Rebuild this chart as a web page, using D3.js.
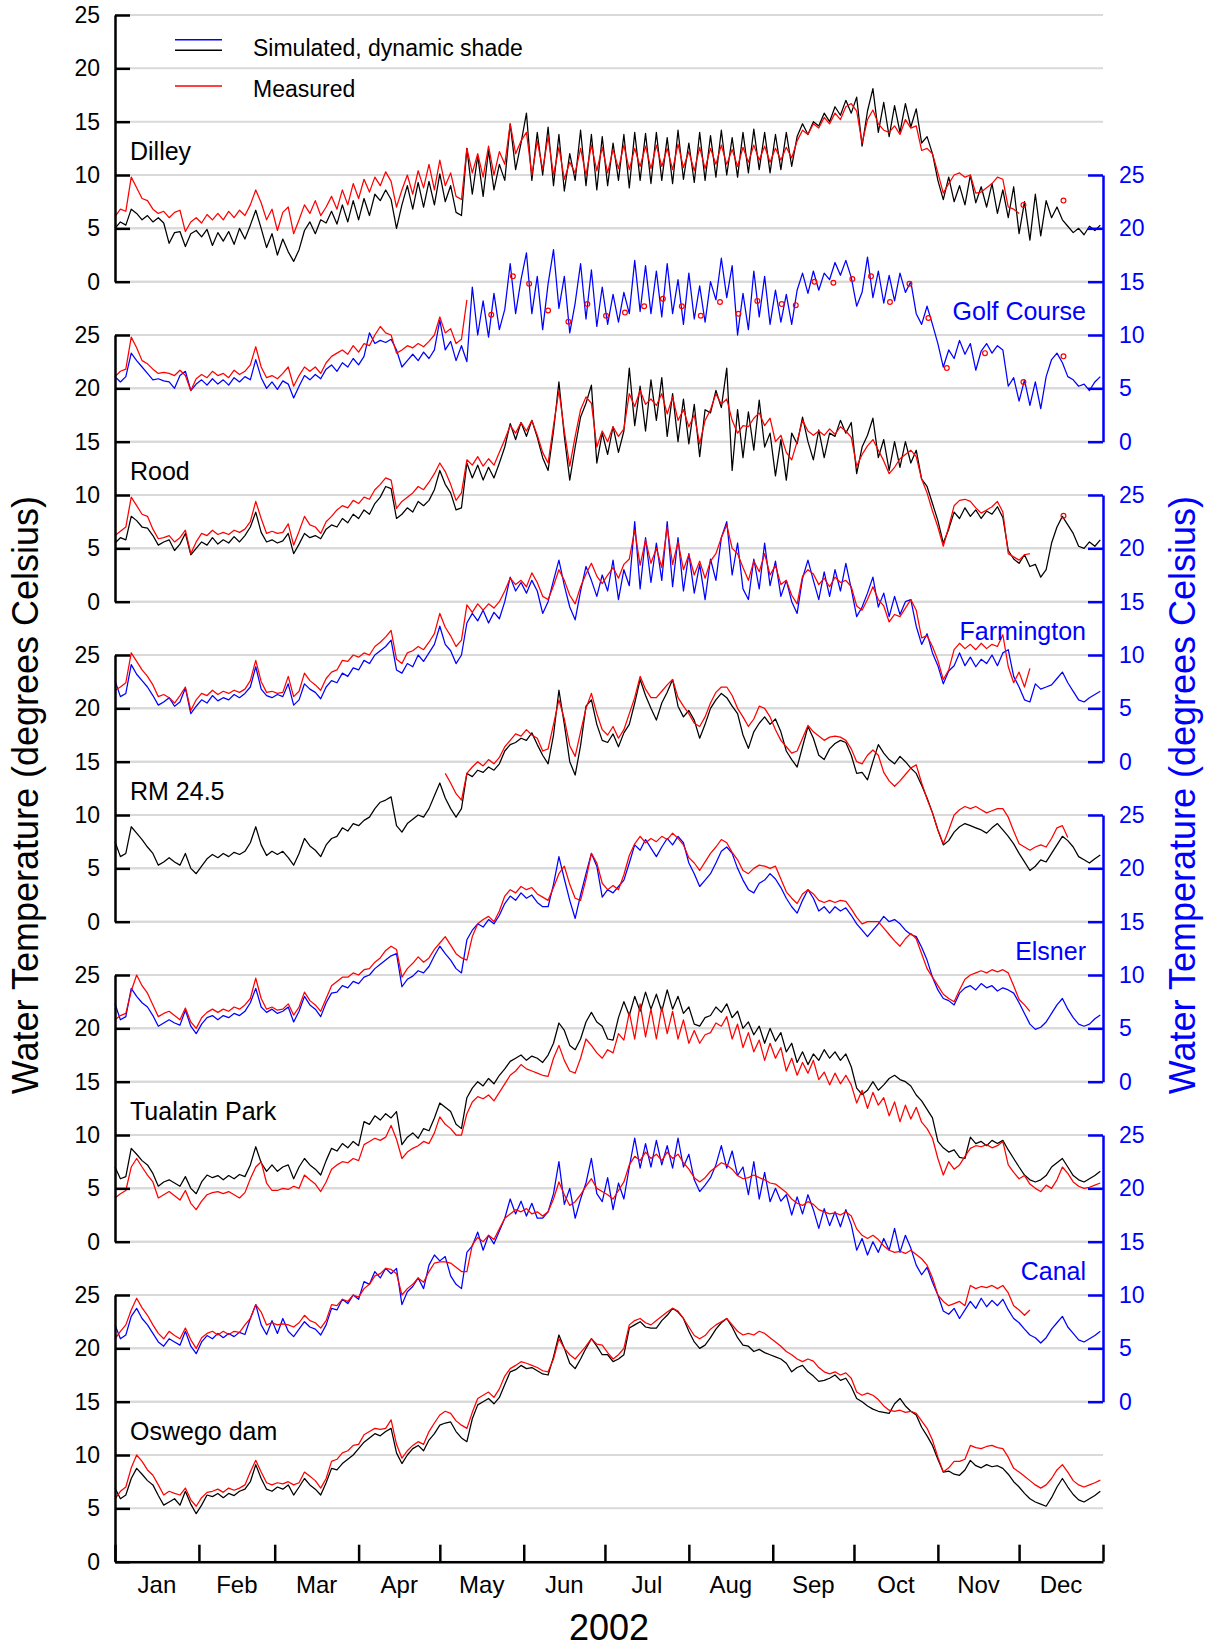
<!DOCTYPE html>
<html>
<head>
<meta charset="utf-8">
<script src="https://cdn.jsdelivr.net/npm/d3@7"></script>
<style>
body { margin: 0; background: #fff; }
svg { display: block; }
</style>
</head>
<body>
<svg id="chart" width="1208" height="1648"></svg>
<script>
// water temperature, deg C, read every 2 days from 1 Jan 2002 (value i -> day start + 2*i)
var dilleySim = [
 5.0, 5.6, 5.3, 6.8, 6.4, 5.8, 6.2, 5.6, 6.0, 5.5,
 3.6, 4.6, 4.7, 3.3, 4.5, 4.8, 4.2, 4.9, 3.4, 4.6,
 3.8, 4.7, 3.5, 5.0, 4.0, 5.3, 6.7, 5.0, 3.2, 4.5,
 2.5, 4.0, 2.8, 1.9, 3.0, 4.8, 5.6, 4.5, 5.8, 5.5,
 6.6, 5.4, 7.2, 5.6, 7.6, 5.8, 7.8, 6.2, 8.2, 7.6,
 8.6, 7.7, 5.0, 7.2, 9.0, 6.8, 9.3, 7.0, 9.4, 7.2,
 10.1, 7.5, 9.0, 6.5, 6.2, 12.5, 8.2, 11.8, 8.0, 12.3,
 8.6, 11.0, 9.5, 14.8, 10.5, 13.0, 15.8, 9.5, 14.0, 10.0,
 14.5, 9.0, 13.8, 8.5, 12.0, 9.5, 14.2, 9.0, 13.8, 8.6,
 13.6, 9.0, 13.0, 9.5, 13.8, 8.8, 14.0, 9.5, 13.9, 9.2,
 14.0, 9.5, 13.5, 9.2, 14.2, 9.6, 13.0, 9.3, 14.0, 9.5,
 13.7, 9.8, 14.2, 10.0, 13.5, 9.8, 14.0, 10.2, 14.3, 10.5,
 14.0, 10.2, 13.8, 10.5, 14.0, 10.8, 13.6, 14.8, 13.8, 15.0,
 14.6, 15.8, 15.0, 16.4, 15.6, 17.0, 15.8, 17.3, 12.7, 16.0,
 18.1, 14.0, 16.8, 13.6, 16.5, 14.0, 16.7, 14.5, 16.2, 13.0,
 13.6, 12.0, 9.5, 7.7, 9.8, 7.5, 9.0, 7.2, 10.0, 7.4,
 8.9, 7.0, 9.2, 6.4, 8.6, 6.0, 8.9, 4.5, 7.5, 3.9,
 8.2, 4.3, 7.6, 6.0, 7.0, 5.8, 5.2, 4.6, 5.0, 4.4,
 5.2, 4.8, 5.3
];
var dilleyMeas = [
 6.1, 6.8, 6.6, 9.8, 8.8, 7.8, 7.6, 6.8, 6.4, 6.6,
 6.0, 6.5, 6.7, 4.7, 5.6, 6.0, 5.5, 6.3, 5.8, 6.4,
 5.8, 6.6, 6.0, 6.7, 6.2, 7.2, 8.6, 7.4, 5.8, 6.8,
 4.8, 6.5, 7.0, 4.5, 5.8, 7.2, 6.4, 7.6, 6.2, 7.0,
 8.0, 6.8, 8.6, 7.2, 9.2, 7.8, 9.6, 8.4, 9.8, 9.0,
 10.3, 9.4, 7.0, 8.6, 10.0, 8.2, 10.4, 8.8, 11.0, 8.6,
 11.4, 9.0, 10.2, 8.0, 7.7, 12.5, 10.2, 12.0, 9.8, 12.7,
 10.0, 12.2, 11.0, 14.8, 12.0, 13.2, 14.0, 10.0, 13.2, 10.5,
 13.6, 10.0, 12.6, 9.6, 11.2, 10.2, 12.5, 10.0, 12.8, 10.4,
 12.6, 10.2, 12.4, 10.6, 12.8, 10.5, 12.5, 10.8, 12.7, 10.6,
 12.8, 10.8, 12.5, 10.5, 12.9, 10.7, 12.2, 10.4, 12.6, 10.6,
 12.5, 11.0, 12.8, 11.0, 12.4, 10.8, 12.6, 11.2, 12.8, 11.4,
 12.7, 11.2, 12.5, 11.4, 12.6, 11.6, 13.2, 14.2, 13.8, 14.8,
 14.4, 15.4, 14.8, 15.8, 15.2, 16.4, 16.7, 16.0, 13.0, 15.2,
 16.1, 14.8, 14.2, 14.0, 14.6, 13.8, 15.2, 14.4, 14.6, 12.3,
 12.5, 12.0, 10.2, 8.3, 9.2, 10.0, 10.2, 9.8, 10.0, 8.3,
 8.4, 8.8, 9.2, 9.8, 9.6, 7.0, 6.8, 6.4
];
var dilleyPts = [[335.6, 7.2], [350.4, 7.6]];

var golfSim = [
 6.1, 5.6, 6.1, 8.3, 7.6, 7.0, 6.4, 5.8, 5.9, 5.7,
 5.6, 5.0, 6.2, 6.6, 4.8, 5.4, 5.8, 5.3, 5.9, 5.4,
 5.8, 5.3, 6.0, 5.6, 6.1, 5.8, 7.7, 6.0, 5.0, 5.6,
 4.9, 5.7, 5.4, 4.1, 5.2, 6.2, 5.8, 6.3, 5.9, 6.8,
 7.2, 6.6, 7.4, 7.0, 7.8, 7.2, 8.0, 10.2, 9.2, 9.5,
 9.3, 9.6, 8.6, 7.0, 7.6, 8.2, 7.6, 8.4, 7.8, 8.6,
 11.4, 8.6, 9.4, 7.6, 9.0, 7.5, 14.5, 10.0, 13.2, 9.8,
 13.9, 10.5, 12.4, 16.7, 12.0, 15.2, 17.7, 12.0, 15.5, 10.5,
 14.8, 18.0, 12.5, 15.5, 10.2, 13.0, 16.7, 11.5, 16.1, 10.8,
 14.5, 11.0, 13.8, 11.2, 14.0, 12.0, 17.0, 12.2, 16.5, 12.0,
 16.0, 11.7, 16.7, 12.0, 15.2, 11.0, 15.8, 11.5, 14.6, 11.2,
 15.0, 13.3, 17.2, 13.5, 16.5, 10.0, 13.9, 10.5, 16.0, 11.7,
 15.5, 11.0, 14.2, 11.2, 13.8, 11.0, 14.2, 15.8, 13.9, 16.0,
 14.2, 15.8, 15.2, 16.8, 15.6, 17.0, 15.4, 12.7, 14.0, 17.3,
 13.5, 16.0, 13.0, 15.6, 13.2, 15.8, 14.0, 15.0, 12.0, 11.0,
 12.7, 11.0, 9.2, 7.0, 8.6, 7.8, 9.5, 8.2, 9.2, 6.7,
 8.5, 9.2, 8.3, 9.0, 8.6, 5.2, 6.0, 3.8, 5.8, 3.4,
 5.6, 3.1, 6.1, 7.7, 8.3, 7.4, 6.1, 5.8, 5.2, 5.4,
 4.8, 5.6, 6.1
];
var golfMeas = [
 6.1, 6.6, 6.8, 9.8, 8.8, 7.6, 7.3, 6.8, 6.4, 6.5,
 6.4, 6.2, 6.7, 6.2, 4.8, 5.9, 6.3, 6.0, 6.6, 6.2,
 6.4, 6.0, 6.7, 6.3, 6.6, 7.2, 8.9, 7.0, 6.0, 6.2,
 5.9, 6.4, 7.0, 5.2, 6.2, 7.0, 6.6, 7.0, 6.4, 7.4,
 8.0, 8.3, 8.6, 8.2, 9.0, 8.4, 9.2, 9.0, 10.0, 10.8,
 10.2, 10.0, 8.3, 8.6, 9.0, 8.8, 9.2, 8.9, 9.4, 10.0,
 11.7, 10.2, 10.6, 9.2, 9.6, 13.3
];
var golfPts = [
 [139, 11.9], [147, 15.5], [153, 14.8], [160, 12.3], [167.5, 11.25], [174.5, 12.9],
 [181.4, 11.8], [188.4, 12.1], [195.5, 12.7], [202.4, 13.4], [209.4, 12.7], [216.4, 11.8],
 [223.5, 13.1], [230.3, 12.0], [237.3, 13.2], [246.3, 12.9], [251.5, 12.8], [258.4, 15.0],
 [265.4, 14.9], [272.4, 15.25], [279.3, 15.5], [286.3, 13.1], [293.5, 14.8], [300.5, 11.6],
 [307.3, 6.9], [321.4, 8.3], [335.6, 5.6], [350.4, 8.0]
];

var roodSim = [
 5.5, 6.0, 5.8, 8.0, 7.6, 7.0, 6.9, 6.2, 5.3, 5.6,
 5.8, 4.8, 5.4, 6.4, 4.4, 5.0, 5.6, 5.3, 6.0, 5.4,
 5.8, 5.5, 6.1, 5.6, 6.2, 7.0, 8.4, 6.5, 5.6, 5.8,
 5.5, 5.7, 6.4, 4.5, 5.4, 6.4, 6.0, 6.2, 5.9, 6.8,
 7.2, 7.0, 7.8, 7.4, 8.2, 7.8, 8.6, 8.2, 9.2, 9.8,
 10.8, 10.6, 7.8, 8.2, 8.8, 8.4, 9.4, 9.0, 9.5, 10.5,
 12.3, 11.0, 10.2, 8.6, 8.8, 13.0, 11.6, 12.8, 11.4, 12.6,
 11.6, 13.0, 14.5, 16.7, 15.2, 16.8, 15.5, 17.0, 15.4, 13.5,
 12.3, 16.0, 20.6, 15.5, 11.4, 14.5, 17.3, 18.6, 20.3, 13.0,
 15.8, 13.8, 16.4, 14.0, 16.0, 21.9, 16.5, 20.2, 16.0, 20.8,
 17.0, 21.0, 15.5, 19.5, 15.0, 19.0, 14.8, 18.5, 13.6, 18.0,
 17.7, 19.8, 18.2, 21.9, 12.3, 18.0, 13.5, 17.8, 14.2, 18.9,
 14.5, 15.8, 11.8, 15.2, 11.4, 15.8, 14.8, 17.3, 15.0, 13.3,
 16.1, 13.5, 15.8, 15.5, 17.0, 15.8, 16.8, 12.0, 14.5, 15.6,
 17.2, 13.5, 15.2, 12.3, 15.0, 12.6, 15.0, 13.0, 14.2, 11.5,
 10.8, 9.2, 7.6, 5.5, 6.8, 8.4, 7.8, 8.8, 8.0, 8.6,
 7.8, 8.5, 8.2, 8.9, 7.9, 4.8, 4.0, 3.6, 4.4, 3.3,
 3.5, 2.3, 3.0, 5.5, 7.0, 8.0, 7.2, 6.4, 5.2, 5.0,
 5.6, 5.2, 5.8
];
var roodMeas = [
 6.2, 6.6, 7.0, 9.8, 9.0, 8.2, 8.0, 6.8, 5.9, 6.0,
 6.2, 5.6, 6.0, 6.7, 4.5, 5.6, 6.4, 6.2, 6.7, 6.3,
 6.5, 6.3, 6.7, 6.5, 6.8, 7.5, 9.4, 7.8, 6.4, 6.6,
 6.4, 6.5, 7.3, 5.3, 6.6, 8.0, 7.2, 7.0, 6.4, 7.5,
 8.0, 8.6, 9.0, 8.8, 9.5, 9.2, 9.8, 9.6, 10.5, 11.0,
 11.6, 11.4, 8.75, 9.4, 9.8, 10.2, 10.8, 10.5, 11.2, 12.0,
 13.0, 12.2, 11.0, 9.5, 10.2, 13.3, 12.8, 13.6, 12.7, 13.4,
 12.8, 14.0, 15.2, 16.5, 15.8, 16.8, 16.0, 17.0, 15.6, 14.0,
 13.0, 16.5, 19.8, 16.0, 12.7, 15.5, 18.0, 19.2, 18.6, 14.5,
 16.0, 15.0, 16.4, 15.5, 16.2, 19.5, 18.3, 19.8, 18.5, 19.0,
 18.4, 19.5, 17.6, 19.2, 17.0, 18.0, 16.4, 17.5, 14.8, 17.0,
 18.0, 19.5, 18.5, 19.0, 17.0, 15.8, 16.5, 16.4, 17.2, 17.7,
 16.5, 17.2, 15.0, 15.6, 14.0, 13.3, 15.0, 17.0, 16.0, 15.6,
 16.0, 15.6, 16.2, 15.7, 16.4, 16.0, 15.4, 12.7, 13.8, 14.6,
 15.2, 14.2, 13.2, 12.0, 12.6, 13.4, 13.8, 14.2, 13.6, 11.5,
 10.2, 8.5, 7.0, 5.2, 7.0, 9.0, 9.5, 9.6, 9.4, 8.8,
 8.3, 8.6, 8.9, 9.4, 8.4, 4.5, 4.2, 3.9, 4.4, 4.5
];
var roodPts = [[350.4, 8.06]];

var farmSim = [
 7.6, 6.1, 6.4, 9.1, 8.2, 7.6, 7.0, 6.2, 5.3, 5.6,
 6.0, 5.2, 5.6, 6.9, 4.5, 5.2, 5.8, 5.5, 6.2, 5.7,
 6.0, 5.8, 6.3, 6.0, 6.4, 7.0, 8.9, 6.8, 6.2, 6.0,
 6.3, 6.1, 7.3, 5.3, 5.8, 7.3, 6.8, 6.5, 5.9, 7.0,
 7.6, 7.4, 8.3, 8.0, 8.8, 8.6, 9.5, 9.2, 10.0, 10.4,
 10.8, 11.4, 8.6, 8.3, 9.2, 8.9, 10.0, 9.4, 10.2, 11.0,
 12.7, 11.0, 10.4, 9.2, 10.0, 13.0, 13.9, 13.2, 14.2, 13.0,
 14.0, 13.4, 15.0, 17.3, 16.0, 16.8, 15.8, 17.0, 16.0, 13.9,
 15.0, 17.0, 18.9, 16.5, 14.5, 13.3, 16.0, 18.3, 17.0, 15.5,
 17.5, 16.0, 18.9, 15.2, 18.0, 16.5, 22.5, 16.2, 21.0, 16.8,
 20.5, 17.0, 22.5, 16.4, 21.0, 16.0, 19.5, 15.8, 18.5, 15.2,
 19.0, 17.0, 21.0, 22.5, 17.5, 20.5, 16.2, 15.2, 19.0, 16.2,
 20.5, 16.5, 18.8, 15.5, 17.0, 15.0, 13.9, 17.2, 18.9, 17.0,
 15.2, 17.8, 15.5, 18.0, 16.0, 18.6, 16.2, 13.6, 14.5, 15.8,
 17.3, 14.5, 15.8, 13.6, 15.5, 13.8, 15.0, 15.2, 12.7, 11.0,
 12.0, 10.2, 9.0, 7.3, 8.5, 9.0, 10.2, 9.0, 9.8, 8.9,
 9.6, 9.2, 10.0, 9.0, 10.2, 10.5, 8.0, 7.0, 5.8, 5.6,
 7.3, 6.8, 7.0, 7.2, 7.8, 8.4, 7.4, 6.6, 5.8, 5.6,
 6.0, 6.3, 6.6
];
var farmMeas = [
 6.7, 7.0, 7.4, 10.2, 9.4, 8.6, 8.0, 7.2, 6.1, 6.3,
 6.0, 5.5, 6.2, 7.0, 4.8, 5.8, 6.4, 6.2, 6.7, 6.3,
 6.6, 6.4, 6.7, 6.5, 6.8, 7.6, 9.5, 7.5, 6.5, 6.6,
 6.4, 6.5, 8.0, 6.1, 6.6, 8.3, 7.6, 7.2, 6.7, 7.8,
 8.4, 8.6, 9.5, 9.4, 10.0, 9.8, 10.2, 10.0, 10.8, 11.2,
 11.7, 12.3, 9.6, 9.2, 10.2, 10.4, 10.8, 10.5, 11.2, 12.0,
 13.9, 12.6, 11.8, 10.8, 11.4, 14.7, 14.0, 14.8, 14.2, 14.8,
 14.4, 15.0, 16.0, 17.2, 16.6, 17.0, 16.4, 17.7, 16.8, 15.5,
 15.2, 16.5, 18.0, 17.0, 15.6, 14.8, 16.4, 17.6, 18.6, 17.4,
 16.7, 17.5, 18.2, 17.2, 18.5, 19.0, 21.7, 18.4, 20.8, 18.6,
 20.0, 18.2, 22.0, 18.5, 20.6, 18.0, 19.4, 17.5, 18.8, 17.2,
 18.8, 19.5, 21.0, 22.2, 20.0, 19.5, 18.2, 17.0, 18.8, 17.8,
 19.5, 17.5, 18.4, 16.6, 17.0, 15.6, 14.8, 17.4, 18.0, 17.6,
 16.6, 17.2, 16.4, 17.3, 16.8, 17.0, 16.4, 14.6, 14.2, 15.2,
 16.4, 15.2, 14.6, 13.1, 13.8, 13.6, 14.4, 15.2, 14.2, 11.6,
 11.8, 10.8, 9.5, 7.7, 8.6, 10.5, 11.1, 10.6, 11.0, 10.5,
 11.1, 10.6, 11.0, 10.8, 11.9, 8.9, 7.4, 8.4, 7.0, 8.75
];

var rmSim = [
 7.5, 6.1, 6.4, 8.9, 8.3, 7.7, 7.0, 6.4, 5.3, 5.6,
 6.0, 5.6, 5.3, 6.4, 5.0, 4.5, 5.2, 5.9, 6.3, 6.0,
 6.4, 6.1, 6.5, 6.3, 6.6, 7.4, 8.9, 7.2, 6.2, 6.6,
 6.3, 6.6, 6.0, 5.3, 6.4, 7.8, 7.1, 6.7, 6.1, 7.2,
 7.8, 8.0, 8.8, 8.5, 9.2, 9.0, 9.5, 9.8, 10.6, 11.2,
 11.4, 11.7, 9.0, 8.4, 9.2, 9.6, 10.0, 9.8, 10.6, 11.8,
 13.0, 11.6, 10.6, 9.8, 10.6, 13.9, 13.6, 14.2, 14.0, 14.5,
 14.2, 14.8, 16.0, 16.6, 16.8, 17.2, 17.0, 17.7, 16.6, 15.6,
 14.8, 17.5, 21.7, 18.5, 15.0, 13.75, 16.5, 20.2, 20.8, 18.5,
 17.0, 16.8, 17.6, 16.4, 17.7, 18.5, 20.5, 22.7, 21.2, 20.0,
 18.9, 20.5, 21.5, 22.7, 20.2, 19.2, 19.8, 18.9, 17.2, 18.5,
 20.0, 20.8, 21.4, 21.0, 20.2, 19.5, 17.5, 16.25, 17.8, 18.6,
 19.2, 18.5, 19.0, 17.8, 16.0, 15.2, 14.5, 16.4, 18.3, 17.2,
 15.6, 15.2, 16.2, 16.7, 17.0, 16.8, 15.6, 13.9, 14.0, 13.3,
 15.0, 16.6, 15.8, 15.2, 14.8, 15.5, 15.0, 14.4, 13.9, 12.8,
 11.6, 10.2, 8.6, 7.2, 7.6, 8.4, 8.9, 9.2, 9.0, 8.8,
 8.6, 8.3, 8.8, 9.2, 8.6, 8.0, 7.3, 6.4, 5.6, 4.8,
 5.2, 5.8, 5.6, 6.4, 7.2, 8.0, 7.6, 7.0, 6.1, 5.8,
 5.5, 5.9, 6.25
];
var rmMeasStart = 122;
var rmMeas = [
 13.9, 13.0, 12.0, 11.4, 13.9, 14.5, 15.0, 14.6, 15.2,
 14.8, 15.4, 16.4, 17.0, 17.6, 17.4, 18.0, 17.5, 17.2, 16.0,
 16.2, 18.5, 20.8, 19.0, 16.5, 15.5, 17.8, 20.0, 21.4, 19.5,
 18.0, 17.5, 18.3, 17.2, 18.0, 19.5, 21.0, 23.0, 21.8, 21.0,
 21.0, 21.6, 22.2, 22.7, 21.0, 20.2, 19.5, 18.6, 18.3, 19.2,
 20.5, 21.5, 22.0, 22.0, 21.2, 20.0, 19.2, 18.3, 19.0, 20.2,
 20.0, 19.2, 18.0, 17.0, 16.4, 15.8, 16.0, 17.2, 18.4, 17.8,
 17.4, 17.0, 17.3, 17.4, 17.3, 17.0, 16.2, 15.0, 14.8, 15.6,
 16.1, 15.6, 14.0, 13.2, 12.7, 13.2, 13.8, 14.4, 14.7, 13.0,
 11.5, 10.2, 8.6, 7.3, 8.6, 10.0, 10.5, 10.8, 10.6, 10.8,
 10.5, 10.2, 10.4, 10.6, 10.6, 9.8, 8.5, 7.3, 7.0, 6.7,
 7.0, 7.2, 7.0, 7.8, 8.8, 9.0, 7.9
];

var elsnerSim = [
 7.3, 5.8, 6.1, 8.75, 8.0, 7.4, 7.0, 6.2, 5.2, 5.5,
 5.8, 5.5, 5.3, 6.7, 5.2, 4.5, 5.4, 6.0, 6.2, 5.8,
 6.2, 6.0, 6.4, 6.2, 6.6, 7.4, 8.75, 7.0, 6.5, 6.8,
 6.4, 6.6, 7.0, 5.6, 6.6, 8.0, 7.2, 6.8, 6.1, 7.4,
 8.3, 8.4, 9.0, 8.8, 9.4, 9.2, 9.8, 10.0, 10.6, 11.0,
 11.4, 11.8, 12.0, 8.9, 9.6, 9.9, 10.4, 10.2, 10.8, 11.8,
 12.7, 12.0, 11.4, 10.6, 10.2, 13.3, 14.2, 14.8, 14.5, 15.2,
 14.8, 15.6, 16.7, 17.4, 17.0, 17.7, 17.2, 17.5, 16.8, 16.4,
 16.4, 18.5, 21.1, 19.0, 17.0, 15.3, 17.5, 19.5, 21.4, 20.2,
 17.3, 18.0, 17.7, 18.3, 18.9, 20.5, 22.2, 21.7, 22.7, 21.9,
 21.1, 22.0, 22.8, 22.2, 23.0, 22.4, 20.5, 19.5, 18.3, 18.9,
 19.5, 20.5, 21.6, 22.0, 21.4, 20.0, 18.9, 18.0, 17.7, 18.6,
 18.9, 19.5, 19.0, 18.2, 17.2, 16.4, 15.8, 17.0, 18.0, 17.2,
 16.0, 16.4, 15.8, 16.4, 16.0, 16.3, 15.6, 14.8, 14.2, 13.6,
 14.2, 14.8, 15.5, 15.0, 15.2, 14.8, 14.2, 13.8, 13.6, 12.6,
 11.4, 9.8, 8.6, 7.8, 7.6, 7.2, 8.3, 8.8, 9.0, 8.6,
 9.2, 8.8, 9.0, 8.5, 8.8, 8.6, 8.3, 7.4, 6.4, 5.4,
 4.9, 5.1, 5.6, 6.4, 7.2, 7.8, 6.8, 6.0, 5.4, 5.2,
 5.4, 5.9, 6.25
];
var elsnerMeas = [
 5.8, 6.2, 6.4, 8.5, 10.0, 9.0, 8.3, 7.2, 6.1, 6.4,
 6.6, 6.2, 5.8, 6.9, 5.6, 5.0, 6.0, 6.5, 6.8, 6.5,
 6.8, 6.6, 7.0, 6.8, 7.2, 7.8, 9.7, 7.8, 6.8, 7.0,
 6.7, 6.8, 7.3, 6.25, 7.0, 8.4, 7.6, 7.2, 6.6, 7.8,
 9.0, 9.4, 9.8, 9.8, 10.2, 10.0, 10.5, 10.6, 11.2, 11.6,
 12.3, 12.7, 12.4, 9.8, 10.6, 11.1, 11.7, 11.2, 11.6, 12.4,
 13.0, 13.6, 12.8, 12.0, 11.6, 11.4, 13.6, 14.8, 15.2, 15.5,
 15.0, 16.0, 17.4, 18.0, 17.7, 18.3, 18.0, 18.2, 17.6, 17.3,
 17.0, 18.2, 19.5, 20.2, 18.5, 17.2, 17.0, 19.0, 21.4, 20.5,
 18.6, 18.0, 18.4, 18.0, 19.4, 21.2, 22.3, 23.0, 22.4, 22.8,
 22.5, 23.0, 22.7, 23.3, 22.8, 22.2, 21.0, 20.5, 19.8, 20.6,
 21.4, 22.0, 22.7, 22.4, 21.5, 20.8, 19.8, 19.5, 20.0, 20.3,
 20.2, 20.0, 20.2, 19.0, 17.8, 17.2, 16.7, 17.6, 18.0, 17.6,
 17.0, 16.8, 17.0, 16.8, 17.0, 16.9, 16.2, 15.4, 14.8, 15.0,
 15.0, 15.0, 14.4, 13.8, 13.2, 12.7, 13.4, 13.9, 13.4, 12.0,
 10.6, 9.8, 9.0, 8.2, 7.8, 7.5, 8.6, 9.6, 10.0, 10.2,
 10.4, 10.2, 10.5, 10.3, 10.5, 10.2, 9.0, 7.7, 7.2, 6.6
];

var tualatinSim = [
 7.0, 5.9, 6.1, 8.75, 8.2, 7.6, 7.2, 6.4, 5.2, 5.6,
 5.8, 5.5, 5.2, 6.1, 5.0, 4.5, 5.6, 6.25, 6.0, 6.2,
 5.8, 6.2, 5.9, 6.3, 6.1, 7.2, 8.9, 7.4, 6.6, 7.2,
 6.6, 7.0, 7.2, 5.9, 7.0, 7.8, 7.2, 6.8, 6.25, 7.6,
 8.75, 8.5, 9.2, 8.8, 9.4, 9.0, 11.25, 11.0, 11.8, 11.4,
 12.0, 11.6, 12.2, 9.1, 9.8, 10.2, 9.7, 10.6, 10.4, 11.6,
 13.0, 12.6, 12.2, 11.0, 10.6, 13.5, 14.4, 15.0, 14.6, 15.3,
 14.8, 15.6, 16.2, 16.9, 17.2, 17.5, 17.0, 17.4, 17.2, 16.8,
 17.5, 18.6, 20.5, 19.8, 18.4, 18.0, 19.0, 20.6, 21.5, 20.6,
 20.2, 19.0, 18.9, 21.0, 22.5, 21.2, 23.0, 21.6, 23.4, 21.8,
 23.2, 21.6, 23.6, 21.8, 23.0, 21.4, 22.0, 20.4, 20.2, 21.0,
 21.2, 22.0, 21.5, 22.3, 21.0, 21.6, 20.0, 20.6, 19.4, 20.2,
 18.6, 20.0, 18.8, 19.6, 17.8, 18.6, 16.8, 17.8, 16.6, 17.6,
 17.0, 18.0, 17.2, 17.8, 17.0, 17.6, 16.4, 14.4, 13.8, 14.2,
 15.0, 14.2, 14.7, 15.3, 15.6, 15.2, 15.0, 14.6, 13.75, 13.2,
 12.4, 11.6, 9.4, 8.8, 8.4, 8.6, 7.9, 7.8, 9.8, 9.2,
 9.4, 9.0, 9.5, 9.2, 9.5, 8.6, 7.8, 7.0, 6.25, 5.8,
 5.6, 5.8, 6.2, 7.0, 7.4, 7.8, 7.0, 6.2, 5.8, 5.6,
 5.9, 6.2, 6.6
];
var tualatinMeas = [
 4.1, 4.5, 4.8, 7.0, 7.8, 7.0, 6.25, 5.6, 4.1, 4.4,
 4.7, 4.3, 3.9, 4.8, 3.6, 3.0, 3.8, 4.4, 4.6, 4.7,
 4.5, 4.7, 4.4, 4.1, 4.6, 5.9, 7.0, 7.5, 5.5, 4.8,
 4.8, 5.0, 4.9, 5.2, 5.0, 6.25, 5.8, 5.4, 4.7, 5.6,
 6.8, 7.2, 7.5, 7.4, 7.8, 7.6, 9.1, 9.4, 9.7, 9.5,
 9.8, 10.9, 9.6, 7.8, 8.4, 8.75, 9.0, 9.4, 9.2, 10.2,
 11.7, 11.0, 10.6, 10.0, 10.0, 12.0, 13.1, 13.6, 13.4, 13.75,
 13.2, 14.0, 14.8, 15.6, 16.0, 16.6, 16.2, 16.0, 15.8, 15.6,
 15.5, 17.2, 18.4, 17.0, 16.0, 15.8, 17.2, 19.0, 18.4, 17.7,
 17.2, 18.0, 17.7, 19.5, 18.9, 21.5, 19.0, 22.3, 19.2, 21.8,
 19.0, 22.0, 19.5, 21.6, 19.0, 20.8, 18.6, 19.8, 18.6, 19.4,
 19.6, 20.5, 20.2, 21.1, 19.0, 20.4, 18.2, 19.6, 17.8, 18.9,
 17.0, 18.6, 17.2, 18.2, 16.0, 17.2, 15.6, 16.8, 15.8, 17.0,
 15.2, 15.9, 14.7, 15.8, 14.8, 15.6, 14.7, 13.0, 14.2, 12.5,
 14.0, 12.8, 13.5, 11.8, 13.1, 11.25, 12.8, 11.5, 12.6, 11.2,
 10.6, 9.7, 7.8, 6.25, 7.5, 6.8, 7.2, 8.0, 8.75, 9.0,
 8.9, 9.1, 8.8, 9.0, 9.4, 7.2, 6.5, 5.9, 6.2, 5.4,
 5.0, 4.7, 5.3, 5.0, 5.8, 7.0, 6.4, 5.6, 5.2, 5.0,
 5.1, 5.3, 5.5
];

var canalSim = [
 7.2, 5.9, 6.25, 8.0, 8.75, 7.8, 7.2, 6.4, 5.6, 5.2,
 5.9, 5.6, 5.3, 6.6, 5.2, 4.5, 5.6, 6.2, 5.9, 6.4,
 6.0, 6.4, 6.1, 6.5, 6.3, 7.8, 9.1, 7.2, 6.3, 7.6,
 6.4, 7.8, 6.6, 6.1, 6.8, 7.5, 7.0, 6.8, 6.25, 7.2,
 8.75, 8.6, 9.6, 9.2, 10.0, 9.6, 11.25, 11.0, 12.2, 11.6,
 12.5, 12.0, 12.5, 9.1, 10.3, 10.8, 11.6, 10.6, 12.8, 13.75,
 13.2, 13.6, 11.8, 11.0, 10.6, 14.0, 14.6, 15.9, 14.2, 15.6,
 14.8, 16.0, 17.2, 19.0, 17.6, 18.8, 17.4, 18.6, 17.2, 17.2,
 17.8, 19.5, 22.5, 18.5, 20.0, 17.2, 19.0, 20.5, 22.8, 19.5,
 18.75, 21.0, 18.0, 20.5, 19.0, 22.0, 24.7, 21.9, 24.2, 22.0,
 24.5, 22.2, 24.0, 21.9, 24.7, 22.0, 23.2, 20.8, 19.7, 20.3,
 21.0, 22.2, 24.0, 21.9, 23.5, 21.2, 22.0, 19.4, 22.5, 19.0,
 21.5, 18.75, 20.0, 18.8, 19.4, 17.5, 19.2, 17.6, 19.4, 18.0,
 16.25, 18.1, 16.5, 17.8, 16.4, 18.0, 16.6, 14.2, 15.3, 13.75,
 15.0, 14.0, 15.3, 14.2, 16.25, 14.0, 15.6, 14.4, 12.8, 11.9,
 12.6, 11.2, 10.0, 8.5, 8.2, 8.75, 7.8, 8.6, 9.4, 8.75,
 9.7, 8.9, 9.5, 9.0, 9.6, 8.6, 7.8, 7.4, 6.8, 6.25,
 6.0, 5.5, 6.0, 6.8, 7.4, 8.0, 7.0, 6.4, 5.8, 5.6,
 5.9, 6.2, 6.6
];
var canalMeas = [
 5.9, 6.6, 7.2, 8.6, 9.7, 8.8, 8.1, 7.2, 6.4, 5.9,
 6.6, 6.2, 5.9, 6.9, 5.8, 5.0, 6.0, 6.4, 6.6, 6.25,
 6.6, 6.3, 6.6, 6.5, 7.2, 7.8, 9.1, 8.4, 7.2, 7.4,
 7.2, 7.3, 7.2, 7.0, 7.4, 8.1, 7.6, 7.4, 6.9, 7.6,
 9.1, 9.0, 9.6, 9.4, 10.0, 9.8, 10.6, 11.0, 11.8, 12.0,
 12.5, 12.4, 12.0, 10.0, 10.6, 11.0, 11.6, 11.2, 12.2, 13.0,
 13.1, 13.1, 13.0, 12.6, 12.2, 12.2, 14.7, 15.4, 15.0, 15.6,
 15.2, 16.2, 17.2, 17.6, 18.0, 17.8, 18.1, 17.6, 17.8, 17.4,
 17.8, 19.0, 20.6, 19.4, 18.4, 18.75, 19.4, 20.2, 20.9, 20.0,
 19.7, 19.4, 19.0, 19.8, 20.6, 22.2, 23.0, 22.6, 23.4, 22.8,
 23.2, 22.6, 23.4, 22.8, 23.2, 22.4, 21.8, 21.0, 20.6, 21.0,
 21.6, 22.0, 22.4, 22.2, 21.8, 21.2, 20.9, 21.0, 21.25, 21.0,
 20.8, 20.5, 20.4, 20.0, 19.6, 19.0, 18.6, 18.4, 18.75, 18.5,
 18.0, 17.8, 17.6, 17.7, 17.5, 17.8, 17.4, 16.2, 15.6, 15.3,
 15.6, 15.2, 14.6, 14.2, 14.0, 14.1, 13.9, 14.2, 13.8, 13.4,
 12.8, 11.6, 10.0, 9.4, 9.0, 9.2, 9.4, 9.0, 10.9, 10.6,
 10.8, 10.7, 10.9, 10.6, 10.9, 10.2, 9.0, 8.6, 8.1, 8.6
];

var oswegoSim = [
 6.9, 5.9, 6.25, 7.8, 8.75, 8.2, 7.6, 7.2, 6.2, 5.3,
 5.6, 5.9, 5.3, 6.6, 5.4, 4.5, 5.3, 6.25, 6.1, 6.4,
 6.0, 6.4, 6.2, 6.6, 6.8, 7.5, 9.1, 7.8, 6.8, 6.6,
 7.0, 6.8, 7.2, 6.25, 7.0, 7.8, 7.2, 6.8, 6.25, 7.4,
 8.75, 8.6, 9.2, 9.6, 10.0, 10.6, 11.2, 11.6, 12.0, 11.8,
 12.2, 12.5, 10.2, 9.2, 10.0, 10.6, 10.9, 10.4, 11.4, 12.0,
 12.8, 13.0, 13.1, 12.2, 11.6, 11.25, 13.4, 14.7, 15.0, 15.3,
 14.8, 15.4, 16.6, 17.8, 18.0, 18.4, 18.1, 18.2, 17.9, 17.6,
 17.5, 19.2, 21.25, 20.0, 18.6, 18.1, 19.0, 20.0, 20.9, 20.2,
 19.4, 19.4, 18.75, 19.0, 19.4, 21.9, 22.2, 22.5, 22.0, 21.9,
 21.9, 22.6, 23.1, 23.75, 23.4, 22.8, 21.6, 20.6, 20.0, 20.3,
 21.0, 21.8, 22.4, 22.8, 22.0, 21.0, 20.3, 20.2, 19.7, 19.9,
 19.6, 19.4, 19.2, 19.0, 18.6, 17.8, 18.2, 18.4, 17.8, 17.4,
 16.9, 17.0, 17.2, 17.5, 17.0, 17.2, 16.4, 15.3, 15.0, 14.6,
 14.3, 14.1, 14.0, 13.9, 14.8, 15.3, 14.6, 14.1, 13.75, 12.6,
 11.8, 10.9, 9.6, 8.4, 8.5, 8.2, 8.1, 8.6, 9.5, 9.0,
 8.8, 9.1, 8.9, 9.0, 8.75, 8.2, 7.5, 7.0, 6.4, 5.9,
 5.6, 5.4, 5.2, 6.0, 7.0, 7.8, 7.0, 6.3, 5.8, 5.6,
 5.9, 6.2, 6.6
];
var oswegoMeas = [
 5.9, 6.6, 7.0, 8.8, 10.0, 9.4, 8.6, 8.1, 7.2, 6.25,
 6.6, 6.4, 6.25, 6.9, 5.8, 5.2, 6.0, 6.5, 6.6, 6.8,
 6.5, 6.9, 6.7, 6.9, 7.2, 8.4, 9.5, 8.4, 7.4, 7.2,
 7.4, 7.3, 7.5, 7.2, 7.4, 8.4, 8.0, 7.6, 6.9, 7.8,
 9.4, 9.6, 10.2, 10.4, 10.9, 11.0, 11.9, 12.2, 12.5, 12.4,
 12.5, 13.3, 11.0, 9.7, 10.4, 10.9, 11.25, 11.0, 12.2, 13.0,
 13.75, 14.1, 13.9, 13.2, 12.8, 12.5, 14.0, 15.3, 15.6, 15.9,
 15.4, 16.2, 17.4, 18.1, 18.4, 18.75, 18.6, 18.4, 18.2, 17.9,
 17.8, 19.0, 20.9, 20.0, 19.4, 19.0, 19.6, 20.2, 20.9, 20.4,
 20.3, 19.6, 19.0, 19.4, 20.0, 22.2, 22.6, 22.8, 22.4, 22.2,
 22.6, 23.0, 23.4, 23.75, 23.5, 22.8, 22.0, 21.2, 20.9, 21.2,
 21.8, 22.2, 22.5, 22.8, 22.2, 21.6, 21.25, 21.4, 21.25, 21.6,
 21.4, 21.0, 20.6, 20.2, 19.7, 19.4, 19.0, 18.75, 19.0, 18.8,
 18.2, 17.8, 17.6, 17.8, 17.5, 17.7, 17.2, 15.9, 15.6, 15.8,
 15.6, 15.2, 14.6, 14.2, 14.1, 14.2, 14.0, 14.1, 13.9, 13.2,
 12.5, 11.4, 9.8, 8.4, 8.8, 9.4, 9.4, 9.6, 10.9, 10.7,
 10.6, 10.8, 10.9, 10.7, 10.6, 9.8, 8.75, 8.4, 8.0, 7.6,
 7.2, 6.9, 7.2, 7.8, 8.6, 9.1, 8.4, 7.6, 7.2, 7.0,
 7.2, 7.4, 7.65
];

var yTicks = [0, 5, 10, 15, 20, 25];
var legendItems = [
  { label: "Simulated, dynamic shade", colors: ["#0000ff", "#000000"] },
  { label: "Measured", colors: ["#ff0000"] }
];

var panels = [
  { label: "Dilley", right: false, slot: 0, sim: dilleySim, meas: dilleyMeas, pts: dilleyPts },
  { label: "Golf Course", right: true, slot: 0, sim: golfSim, meas: golfMeas, pts: golfPts },
  { label: "Rood", right: false, slot: 1, sim: roodSim, meas: roodMeas, pts: roodPts },
  { label: "Farmington", right: true, slot: 1, sim: farmSim, meas: farmMeas },
  { label: "RM 24.5", right: false, slot: 2, sim: rmSim, meas: rmMeas, measStart: rmMeasStart },
  { label: "Elsner", right: true, slot: 2, sim: elsnerSim, meas: elsnerMeas },
  { label: "Tualatin Park", right: false, slot: 3, sim: tualatinSim, meas: tualatinMeas },
  { label: "Canal", right: true, slot: 3, sim: canalSim, meas: canalMeas },
  { label: "Oswego dam", right: false, slot: 4, sim: oswegoSim, meas: oswegoMeas }
];

var font = "'Liberation Sans', Arial, Helvetica, sans-serif";
var left = 115, right = 1103;
var svg = d3.select("#chart");

var t0 = Date.UTC(2002, 0, 1);
function dayDate(d) { return new Date(t0 + d * 864e5); }
var x = d3.scaleUtc()
  .domain([new Date(t0), new Date(Date.UTC(2003, 0, 1))])
  .range([left, right]);

function yScale(p) {
  var base = 281.7 + 320 * p.slot + (p.right ? 160 : 0);
  return d3.scaleLinear().domain([0, 25]).range([base, base - 266.7]);
}
panels.forEach(function (p) { p.y = yScale(p); });

// grid
var gGrid = svg.append("g");
panels.forEach(function (p) {
  gGrid.selectAll(null).data(yTicks).enter().append("line")
    .attr("x1", left).attr("x2", right)
    .attr("y1", function (v) { return p.y(v); })
    .attr("y2", function (v) { return p.y(v); })
    .attr("stroke", "#d9d9d9").attr("stroke-width", 2);
});

function toPoints(vals, start) {
  return vals.map(function (v, i) { return [start + 2 * i, v]; });
}

// series
var gLines = svg.append("g").attr("fill", "none")
  .attr("stroke-width", 1.25).attr("stroke-linejoin", "round");
panels.forEach(function (p) {
  var line = d3.line()
    .defined(function (d) { return d[1] != null; })
    .x(function (d) { return x(dayDate(d[0])); })
    .y(function (d) { return p.y(d[1]); });
  gLines.append("path")
    .attr("d", line(toPoints(p.sim, 0)))
    .attr("stroke", p.right ? "#0000ff" : "#000000");
  gLines.append("path")
    .attr("d", line(toPoints(p.meas, p.measStart || 0)))
    .attr("stroke", "#ff0000");
  if (p.pts) {
    gLines.selectAll(null).data(p.pts).enter().append("circle")
      .attr("cx", function (d) { return x(dayDate(d[0])); })
      .attr("cy", function (d) { return p.y(d[1]); })
      .attr("r", 2.4).attr("stroke", "#ff0000").attr("stroke-width", 1.2)
      .attr("fill", "none");
  }
});

// axes
function styleAxis(g, color) {
  g.attr("font-family", font).attr("font-size", 23);
  g.select(".domain").attr("stroke", color).attr("stroke-width", 2.5);
  g.selectAll(".tick line").attr("stroke", color).attr("stroke-width", 2.5);
  g.selectAll(".tick text").attr("fill", color);
}
panels.forEach(function (p) {
  var ax, g;
  if (p.right) {
    ax = d3.axisRight(p.y).tickValues(yTicks).tickSize(-15).tickSizeOuter(0).tickPadding(16);
    g = svg.append("g").attr("transform", "translate(" + right + ",0)").call(ax);
    styleAxis(g, "#0000ff");
  } else {
    ax = d3.axisLeft(p.y).tickValues(yTicks).tickSize(-15).tickSizeOuter(0).tickPadding(15);
    g = svg.append("g").attr("transform", "translate(" + left + ",0)").call(ax);
    styleAxis(g, "#000000");
  }
  svg.append("text")
    .attr("x", p.right ? 1086 : 130)
    .attr("y", p.y(12.2))
    .attr("dy", "0.35em")
    .attr("text-anchor", p.right ? "end" : "start")
    .attr("font-family", font).attr("font-size", 25)
    .attr("fill", p.right ? "#0000ff" : "#000000")
    .text(p.label);
});

var yBottom = 281.7 + 320 * 4;
var xAxis = d3.axisBottom(x).ticks(d3.utcMonth.every(1)).tickSize(-17).tickSizeOuter(0).tickFormat("");
var gx = svg.append("g").attr("transform", "translate(0," + yBottom + ")").call(xAxis);
styleAxis(gx, "#000000");

var monthStarts = d3.utcMonths(new Date(t0), new Date(Date.UTC(2003, 0, 1)));
svg.append("g").selectAll("text").data(monthStarts).enter().append("text")
  .attr("x", function (m) { return (x(m) + x(d3.utcMonth.offset(m, 1))) / 2; })
  .attr("y", yBottom + 31)
  .attr("text-anchor", "middle")
  .attr("font-family", font).attr("font-size", 24)
  .text(d3.utcFormat("%b"));

svg.append("text")
  .attr("x", (left + right) / 2).attr("y", 1640)
  .attr("text-anchor", "middle")
  .attr("font-family", font).attr("font-size", 36)
  .text("2002");

svg.append("text")
  .attr("transform", "translate(38,795) rotate(-90)")
  .attr("text-anchor", "middle")
  .attr("font-family", font).attr("font-size", 36)
  .text("Water Temperature (degrees Celsius)");

svg.append("text")
  .attr("transform", "translate(1195,795) rotate(-90)")
  .attr("text-anchor", "middle")
  .attr("font-family", font).attr("font-size", 36)
  .attr("fill", "#0000ff")
  .text("Water Temperature (degrees Celsius)");

// legend
var gLeg = svg.append("g");
var legY = [45, 86];
legendItems.forEach(function (item, i) {
  item.colors.forEach(function (c, k) {
    var yy = legY[i] - (item.colors.length - 1) * 5.3 + k * 10.6;
    gLeg.append("line")
      .attr("x1", 175).attr("x2", 222)
      .attr("y1", yy).attr("y2", yy)
      .attr("stroke", c).attr("stroke-width", 1.4);
  });
  gLeg.append("text")
    .attr("x", 253).attr("y", legY[i] + 3)
    .attr("dy", "0.35em")
    .attr("font-family", font).attr("font-size", 23)
    .text(item.label);
});
</script>
</body>
</html>
